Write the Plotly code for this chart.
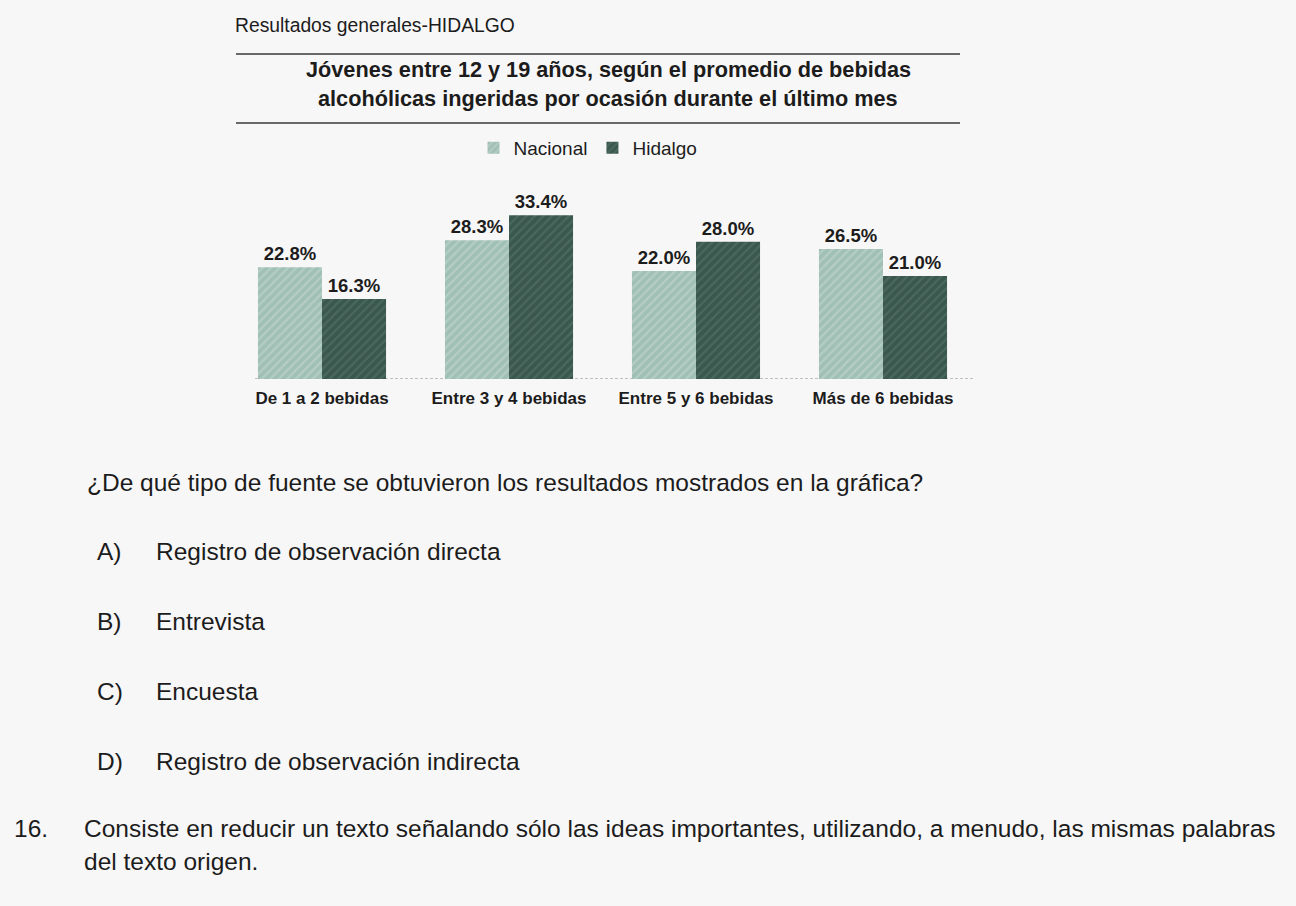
import plotly.graph_objects as go

W, H = 1296, 906

categories = ["De 1 a 2 bebidas", "Entre 3 y 4 bebidas", "Entre 5 y 6 bebidas", "Más de 6 bebidas"]
nacional = [22.8, 28.3, 22.0, 26.5]
hidalgo = [16.3, 33.4, 28.0, 21.0]

header = "Resultados generales-HIDALGO"
title_lines = ["Jóvenes entre 12 y 19 años, según el promedio de bebidas",
               "alcohólicas ingeridas por ocasión durante el último mes"]
question = "¿De qué tipo de fuente se obtuvieron los resultados mostrados en la gráfica?"
options = [("A)", "Registro de observación directa"),
           ("B)", "Entrevista"),
           ("C)", "Encuesta"),
           ("D)", "Registro de observación indirecta")]
q16_num = "16."
q16_lines = ["Consiste en reducir un texto señalando sólo las ideas importantes, utilizando, a menudo, las mismas palabras",
             "del texto origen."]

FONT = "Liberation Sans, Arial, Helvetica, sans-serif"
INK = "#1c1c1c"
BODY = 24.5


def px(x):
    return x / W


def py(y):
    return 1 - y / H


fig = go.Figure()
fig.add_trace(go.Bar(
    name="Nacional", x=categories, y=nacional,
    marker=dict(color="#a1c0b5", line=dict(width=0),
                pattern=dict(shape="/", fgcolor="#cbdcd5", bgcolor="#a1c0b5", size=6, solidity=0.35)),
    texttemplate="<b>%{y:.1f}%</b>", textposition="outside", cliponaxis=False,
    textfont=dict(size=18.5, color=INK, family=FONT),
))
fig.add_trace(go.Bar(
    name="Hidalgo", x=categories, y=hidalgo,
    marker=dict(color="#3b584e", line=dict(width=0),
                pattern=dict(shape="/", fgcolor="#5e7a70", bgcolor="#3b584e", size=6, solidity=0.35)),
    texttemplate="<b>%{y:.1f}%</b>", textposition="outside", cliponaxis=False,
    textfont=dict(size=18.5, color=INK, family=FONT),
))

annotations = []
annotations.append(dict(text=header, x=px(233), y=py(25), xanchor="left", yanchor="middle",
                        font=dict(size=19.3, color=INK, family=FONT)))
for i, t in enumerate(title_lines):
    annotations.append(dict(text="<b>" + t + "</b>", x=px(608), y=py(70 + 28 * i), xanchor="center", yanchor="middle",
                            font=dict(size=21.7, color=INK, family=FONT)))
annotations.append(dict(text=question, x=px(85), y=py(482), xanchor="left", yanchor="middle",
                        font=dict(size=BODY, color=INK, family=FONT)))
for i, (lab, txt) in enumerate(options):
    yy = 551 + 70 * i
    annotations.append(dict(text=lab, x=px(95), y=py(yy), xanchor="left", yanchor="middle",
                            font=dict(size=BODY, color=INK, family=FONT)))
    annotations.append(dict(text=txt, x=px(154), y=py(yy), xanchor="left", yanchor="middle",
                            font=dict(size=BODY, color=INK, family=FONT)))
annotations.append(dict(text=q16_num, x=px(12), y=py(828), xanchor="left", yanchor="middle",
                        font=dict(size=BODY, color=INK, family=FONT)))
for i, t in enumerate(q16_lines):
    annotations.append(dict(text=t, x=px(82), y=py(828 + 33 * i), xanchor="left", yanchor="middle",
                            font=dict(size=BODY, color=INK, family=FONT)))
for a in annotations:
    a.update(xref="paper", yref="paper", showarrow=False)

shapes = [
    dict(type="line", xref="paper", yref="paper", x0=px(236), x1=px(960), y0=py(54), y1=py(54),
         line=dict(color="#3a3a3a", width=1.5)),
    dict(type="line", xref="paper", yref="paper", x0=px(236), x1=px(960), y0=py(123), y1=py(123),
         line=dict(color="#3a3a3a", width=1.5)),
    dict(type="line", xref="paper", yref="y", x0=px(255), x1=px(975), y0=0, y1=0, layer="below",
         line=dict(color="#8a8a8a", width=1.2, dash="3px,2px")),
]

fig.update_layout(
    width=W, height=H, autosize=False,
    margin=dict(l=0, r=0, t=0, b=0),
    paper_bgcolor="#f8f7f7", plot_bgcolor="rgba(0,0,0,0)",
    font=dict(family=FONT, color=INK),
    barmode="group", bargap=0.315, bargroupgap=0,
    showlegend=True,
    legend=dict(orientation="h", x=px(588), y=py(148), xanchor="center", yanchor="middle",
                font=dict(size=19, color=INK, family=FONT), bgcolor="rgba(0,0,0,0)",
                itemwidth=30, traceorder="normal"),
    xaxis=dict(domain=[px(228.5), px(976.5)], showgrid=False, zeroline=False, showline=False,
               ticks="", tickfont=dict(size=17, color=INK, family=FONT, weight="bold"),
               ticklabelstandoff=7),
    yaxis=dict(domain=[py(379), py(200)], range=[0, 36.5], visible=False, showgrid=False, zeroline=False),
    annotations=annotations,
    shapes=shapes,
)

fig.write_html("out.html", config={"displayModeBar": False},
               post_script="document.body.style.margin='0';document.body.style.overflow='hidden';")
